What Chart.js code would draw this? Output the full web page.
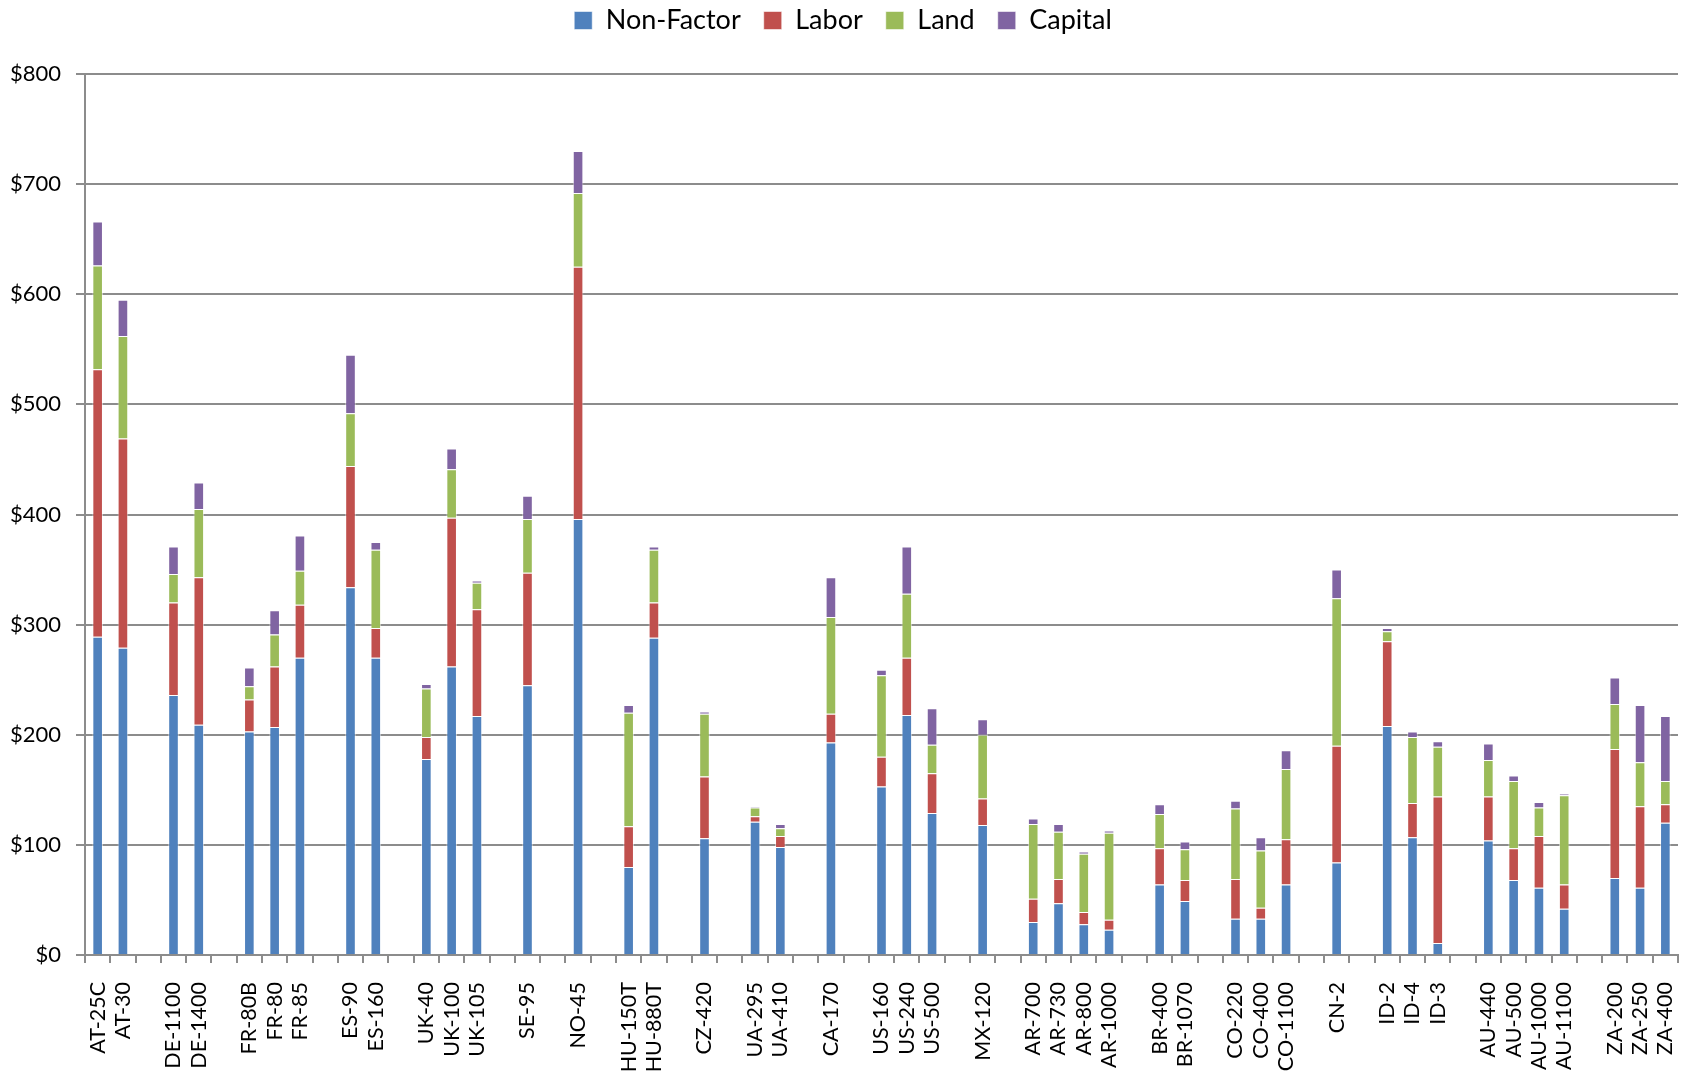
<!DOCTYPE html>
<html>
<head>
<meta charset="utf-8">
<script src="https://cdn.jsdelivr.net/npm/chart.js@4.4.1/dist/chart.umd.min.js"></script>
<style>
  html, body { margin: 0; padding: 0; background: #ffffff; }
  #wrap { width: 1686px; height: 1071px; }
</style>
</head>
<body>
<div id="wrap"><canvas id="chart" width="1686" height="1071"></canvas></div>
<script>
// Cost components per site; empty labels / nulls separate country groups.
const categories = [
  'AT-25C', 'AT-30', '',
  'DE-1100', 'DE-1400', '',
  'FR-80B', 'FR-80', 'FR-85', '',
  'ES-90', 'ES-160', '',
  'UK-40', 'UK-100', 'UK-105', '',
  'SE-95', '',
  'NO-45', '',
  'HU-150T', 'HU-880T', '',
  'CZ-420', '',
  'UA-295', 'UA-410', '',
  'CA-170', '',
  'US-160', 'US-240', 'US-500', '',
  'MX-120', '',
  'AR-700', 'AR-730', 'AR-800', 'AR-1000', '',
  'BR-400', 'BR-1070', '',
  'CO-220', 'CO-400', 'CO-1100', '',
  'CN-2', '',
  'ID-2', 'ID-4', 'ID-3', '',
  'AU-440', 'AU-500', 'AU-1000', 'AU-1100', '',
  'ZA-200', 'ZA-250', 'ZA-400'
];

const nonFactor = [
  289, 279, null,
  236, 209, null,
  203, 207, 270, null,
  334, 270, null,
  178, 262, 217, null,
  245, null,
  396, null,
  80, 288, null,
  106, null,
  121, 98, null,
  193, null,
  153, 218, 129, null,
  118, null,
  30, 47, 28, 23, null,
  64, 49, null,
  33, 33, 64, null,
  84, null,
  208, 107, 11, null,
  104, 68, 61, 42, null,
  70, 61, 120
];

const labor = [
  243, 190, null,
  84, 134, null,
  29, 55, 48, null,
  110, 27, null,
  20, 135, 97, null,
  102, null,
  229, null,
  37, 32, null,
  56, null,
  5, 10, null,
  26, null,
  27, 52, 36, null,
  24, null,
  21, 22, 11, 9, null,
  33, 19, null,
  36, 10, 41, null,
  106, null,
  77, 31, 133, null,
  40, 29, 47, 22, null,
  117, 74, 17
];

const land = [
  94, 93, null,
  26, 62, null,
  12, 29, 31, null,
  48, 71, null,
  44, 44, 24, null,
  49, null,
  67, null,
  103, 48, null,
  57, null,
  8, 7, null,
  88, null,
  74, 58, 26, null,
  58, null,
  68, 43, 53, 79, null,
  31, 28, null,
  64, 52, 64, null,
  134, null,
  9, 60, 45, null,
  33, 61, 26, 81, null,
  41, 40, 21
];

const capital = [
  40, 33, null,
  25, 24, null,
  17, 22, 32, null,
  53, 7, null,
  4, 19, 2, null,
  21, null,
  38, null,
  7, 3, null,
  2, null,
  1, 4, null,
  36, null,
  5, 43, 33, null,
  14, null,
  5, 7, 2, 2, null,
  9, 7, null,
  7, 12, 17, null,
  26, null,
  3, 5, 5, null,
  15, 5, 5, 1.5, null,
  24, 52, 59
];

const yTicks = [0, 100, 200, 300, 400, 500, 600, 700, 800];

const FONT = 'Lato, "Open Sans", "DejaVu Sans", sans-serif';
const AXIS_GREY = '#8c8c8c';
const SEGMENT_EDGE = 'rgba(255,255,255,0.55)';

function series(label, data, color) {
  return {
    label: label,
    data: data,
    backgroundColor: color,
    borderColor: SEGMENT_EDGE,
    borderWidth: 1,
    borderSkipped: 'start',
    barPercentage: 0.42,
    categoryPercentage: 1.0
  };
}

// Legend block: wide spacing between items, but a compact row near the top edge.
const legendLayout = {
  id: 'legendLayout',
  beforeInit(chart) {
    const leg = chart.legend;
    if (!leg) return;
    const origFit = leg.fit;
    leg.fit = function () {
      origFit.call(this);
      this.height = 74;
    };
    const origDraw = leg.draw;
    leg.draw = function () {
      const ctx = this.ctx;
      ctx.save();
      ctx.translate(0, -16);
      origDraw.call(this);
      ctx.restore();
    };
  }
};

function build() {
  const ctx = document.getElementById('chart').getContext('2d');
  new Chart(ctx, {
    type: 'bar',
    data: {
      labels: categories,
      datasets: [
        series('Non-Factor', nonFactor, '#4F81BD'),
        series('Labor', labor, '#C0504D'),
        series('Land', land, '#9BBB59'),
        series('Capital', capital, '#8064A2')
      ]
    },
    options: {
      responsive: false,
      animation: false,
      devicePixelRatio: 1,
      layout: { padding: { left: 8, right: 8, top: 0, bottom: 0 } },
      plugins: {
        legend: {
          position: 'top',
          align: 'center',
          labels: {
            boxWidth: 18,
            boxHeight: 18,
            padding: 23,
            color: '#000000',
            font: { family: FONT, size: 27 }
          }
        },
        tooltip: { enabled: false }
      },
      scales: {
        x: {
          stacked: true,
          offset: true,
          afterFit(scale) {
            scale.height = 116;
            scale.paddingLeft = 0;
            scale.paddingRight = 0;
          },
          border: { display: true, color: AXIS_GREY, width: 2 },
          grid: {
            display: true,
            offset: true,
            drawOnChartArea: false,
            drawTicks: true,
            tickLength: 8,
            color: AXIS_GREY,
            lineWidth: 2
          },
          ticks: {
            autoSkip: false,
            maxRotation: 90,
            minRotation: 90,
            padding: 19,
            color: '#000000',
            font: { family: FONT, size: 21.5 }
          }
        },
        y: {
          stacked: true,
          min: 0,
          max: 800,
          afterBuildTicks(scale) {
            scale.ticks = yTicks.map(v => ({ value: v }));
          },
          afterFit(scale) {
            scale.width = 77;
            scale.paddingTop = 0;
            scale.paddingBottom = 0;
          },
          border: { display: true, color: AXIS_GREY, width: 2 },
          grid: {
            display: true,
            drawTicks: true,
            tickLength: 9,
            color: AXIS_GREY,
            lineWidth: 2
          },
          ticks: {
            padding: 15,
            color: '#000000',
            font: { family: FONT, size: 22 },
            callback: v => '$' + v
          }
        }
      }
    },
    plugins: [legendLayout]
  });
}

if (document.fonts && document.fonts.load) {
  Promise.all([
    document.fonts.load('27px Lato'),
    document.fonts.load('22px Lato')
  ]).then(build, build);
} else {
  build();
}
</script>
</body>
</html>
